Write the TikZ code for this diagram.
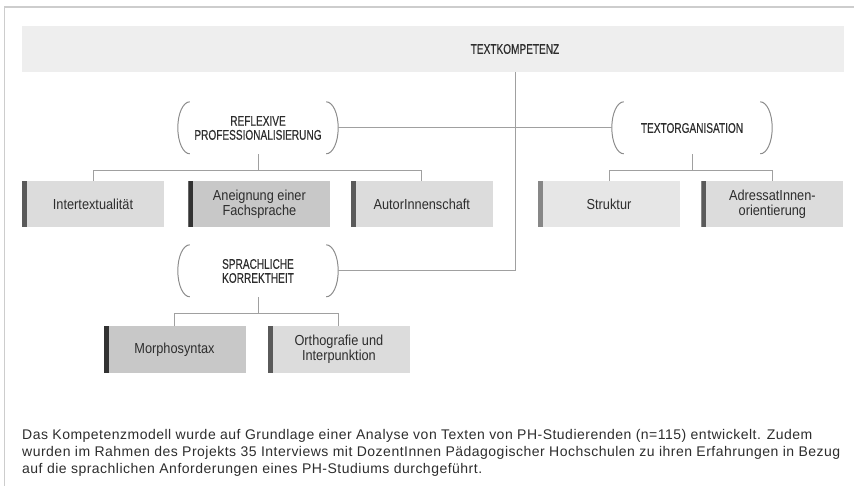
\documentclass[tikz,border=0pt]{standalone}
\usepackage{fontspec}
\setmainfont{Liberation Sans}
\newfontfamily\capsfont[FakeStretch=0.72, FakeBold=0.4]{Liberation Sans}
\newfontfamily\labelfont[FakeStretch=0.88]{Liberation Sans}
\newfontfamily\notefont[LetterSpace=3.5]{Liberation Sans}
\usetikzlibrary{positioning, calc}
\definecolor{cFrame}{RGB}{205,205,205}
\definecolor{cBar}{RGB}{238,238,238}
\definecolor{cLine}{RGB}{160,160,160}
\definecolor{cParen}{RGB}{140,140,140}
\definecolor{cText}{RGB}{45,45,45}
\definecolor{cLight}{RGB}{230,230,230}
\definecolor{cMid}{RGB}{220,220,220}
\definecolor{cDarkFill}{RGB}{200,200,200}
\definecolor{cEdgeDark}{RGB}{50,50,50}
\definecolor{cEdgeMid}{RGB}{90,90,90}
\definecolor{cEdgeLight}{RGB}{135,135,135}
\tikzset{
  capslabel/.style={font=\capsfont\fontsize{14}{14}\selectfont, text=cText,
                    align=center},
  parenbox/.style={capslabel, rectangle, minimum width=160pt,
                   minimum height=52pt, inner sep=0pt},
  leafbox/.style 2 args={rectangle, fill=#1, minimum width=142pt,
                   minimum height=46pt, inner sep=0pt, align=center, text=cText,
                   font=\labelfont\fontsize{14.5}{15}\selectfont,
                   path picture={\fill[#2] (path picture bounding box.south west)
                     rectangle ([xshift=5pt]path picture bounding box.north west);}},
  linkline/.style={draw=cLine, line width=1pt},
  parenline/.style={draw=cParen, line width=1pt}
}
\begin{document}
\begin{tikzpicture}[x=1pt, y=-1pt]
  \useasboundingbox (0,0) rectangle (854,486);

  % ── Frame ──
  \draw[cFrame, line width=1.5pt] (4.5,486) -- (4.5,7) -- (854,7);

  % ── Top level ──
  \node[fill=cBar, minimum width=822pt, minimum height=46pt, inner sep=0pt] (bar)
      at (433,49) {};
  \node[capslabel] (kompetenz) at (515,49) {TEXTKOMPETENZ};

  % ── Dimensions ──
  \node[parenbox] (refl) at (258,128) {REFLEXIVE\\PROFESSIONALISIERUNG};
  \node[parenbox] (orga) at (692,128) {TEXTORGANISATION};
  \node[parenbox] (sprach) at (258,271) {SPRACHLICHE\\KORREKTHEIT};

  \foreach \p in {refl, orga, sprach} {
    \draw[parenline] ([xshift=12pt]\p.north west)
        arc[start angle=90, end angle=270, x radius=12pt, y radius=26pt];
    \draw[parenline] ([xshift=-12pt]\p.north east)
        arc[start angle=90, end angle=-90, x radius=12pt, y radius=26pt];
  }

  % ── Sub-competences ──
  \node[leafbox={cMid}{cEdgeMid}] (intertext) at (93,204) {Intertextualität};
  \node[leafbox={cDarkFill}{cEdgeDark}, right=24pt of intertext] (aneignung)
      {Aneignung einer\\Fachsprache};
  \node[leafbox={cMid}{cEdgeMid}, right=20pt of aneignung] (autor)
      {AutorInnenschaft};

  \node[leafbox={cLight}{cEdgeLight}] (struktur) at (609,204) {Struktur};
  \node[leafbox={cMid}{cEdgeMid}, right=21pt of struktur] (adressat)
      {AdressatInnen-\\orientierung};

  \node[leafbox={cDarkFill}{cEdgeDark}] (morpho) at (174.5,349.5) {Morphosyntax};
  \node[leafbox={cMid}{cEdgeMid}, right=22pt of morpho] (ortho)
      {Orthografie und\\Interpunktion};

  % ── Connectors ──
  \draw[linkline] (bar.south -| kompetenz) |- (sprach.east);
  \draw[linkline] (refl.east) -- (orga.west);

  \coordinate (reflfork) at ($(refl.south)+(0,16)$);
  \draw[linkline] (refl.south) -- (reflfork);
  \draw[linkline] (intertext.north) |- (reflfork) -| (autor.north);

  \coordinate (orgafork) at ($(orga.south)+(0,16)$);
  \draw[linkline] (orga.south) -- (orgafork);
  \draw[linkline] (struktur.north) |- (orgafork) -| (adressat.north);

  \coordinate (sprachfork) at ($(sprach.south)+(0,16)$);
  \draw[linkline] (sprach.south) -- (sprachfork);
  \draw[linkline] (morpho.north) |- (sprachfork) -| (ortho.north);

  % ── Caption ──
  \node[anchor=north west, align=left, inner sep=0pt, text=cText,
        font=\notefont\fontsize{14}{17}\selectfont] (caption) at (22,429)
      {Das Kompetenzmodell wurde auf Grundlage einer Analyse von Texten von PH-Studierenden (n=115) entwickelt. Zudem\\
       wurden im Rahmen des Projekts 35 Interviews mit DozentInnen Pädagogischer Hochschulen zu ihren Erfahrungen in Bezug\\
       auf die sprachlichen Anforderungen eines PH-Studiums durchgeführt.};

\end{tikzpicture}
\end{document}
